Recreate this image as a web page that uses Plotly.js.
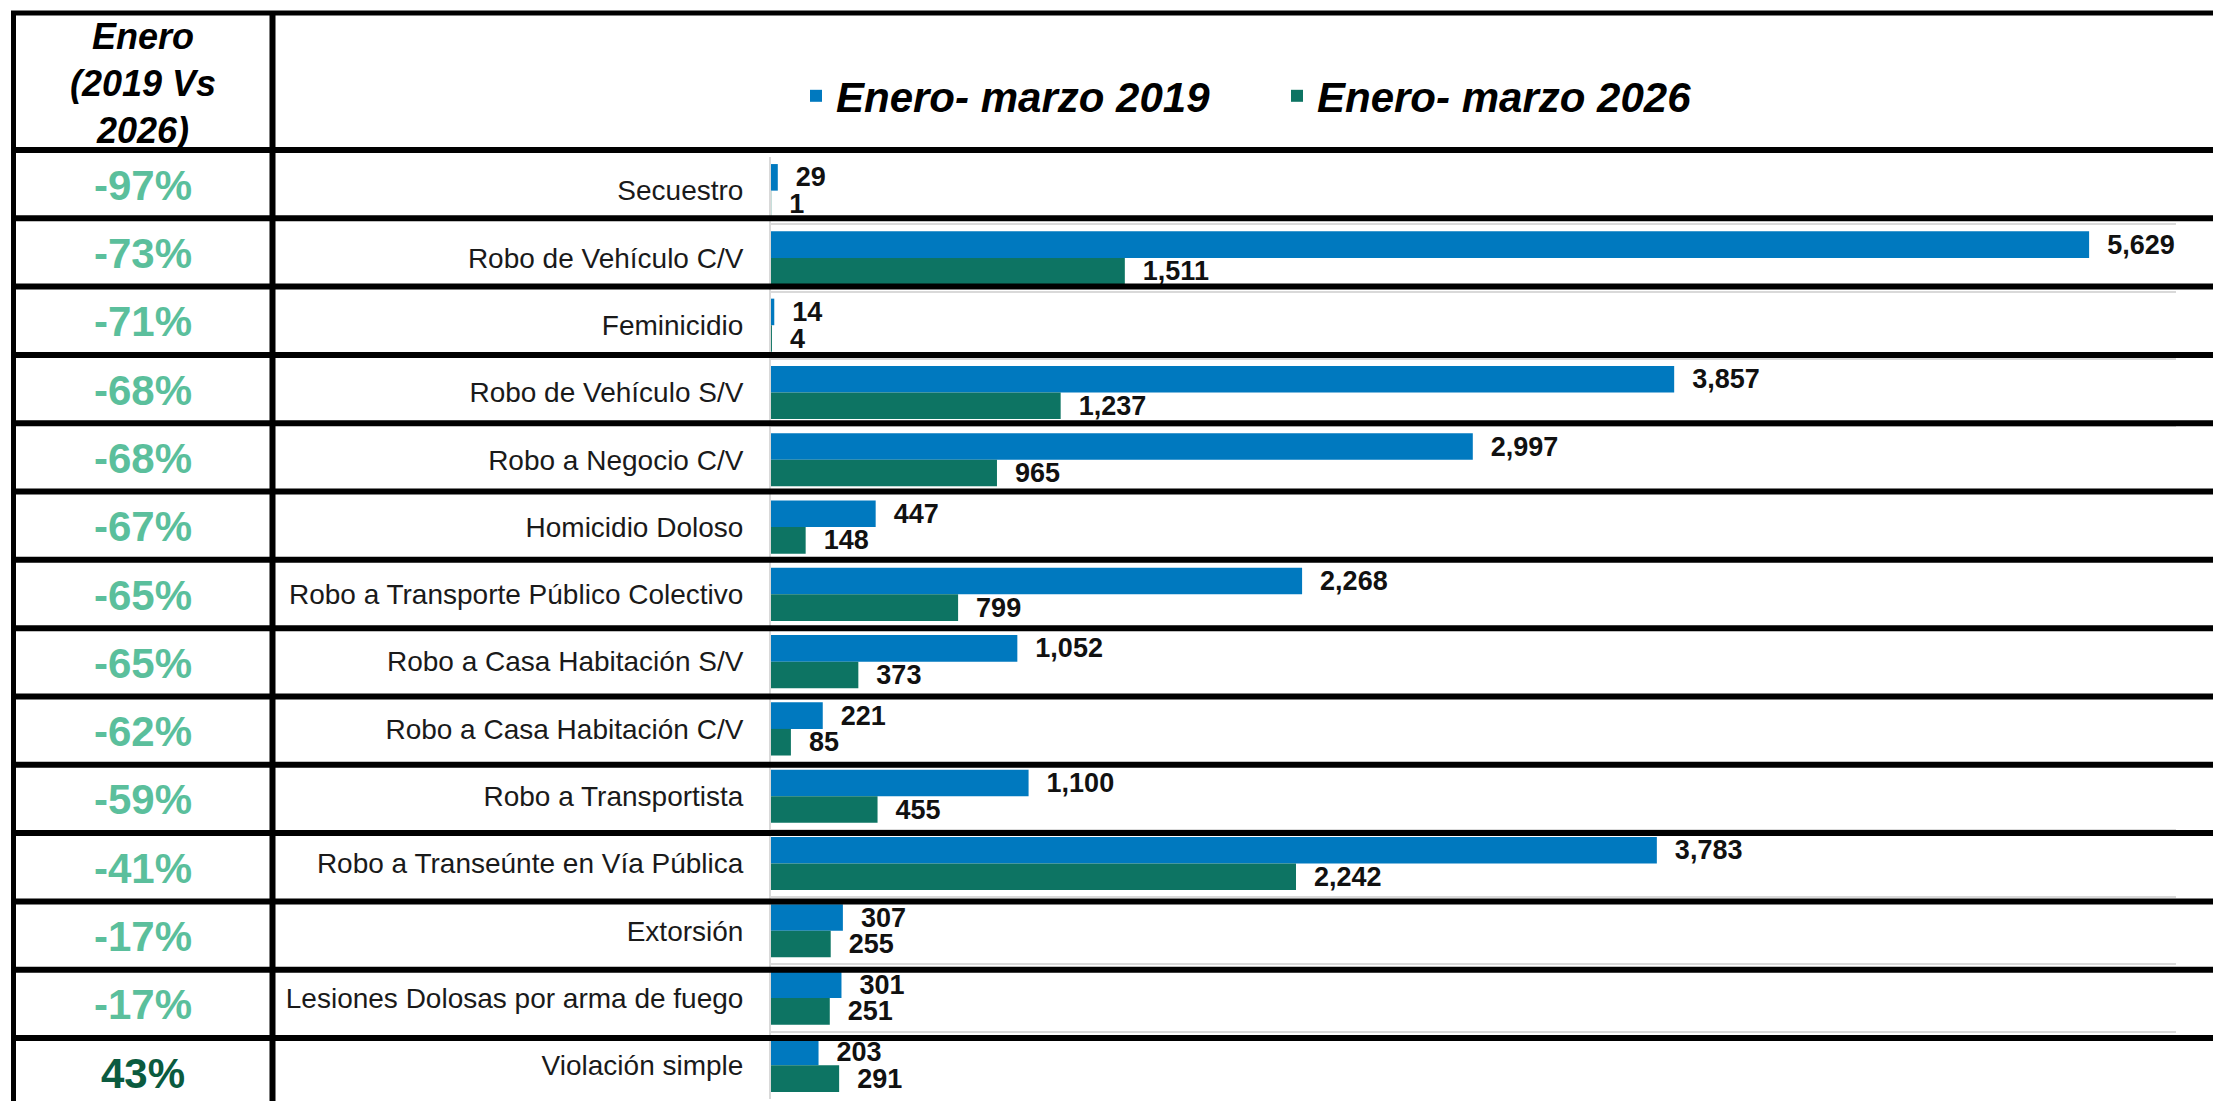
<!DOCTYPE html>
<html><head><meta charset="utf-8">
<script src="https://cdn.plot.ly/plotly-3.0.1.min.js"></script>
<style>html,body{margin:0;padding:0;background:#fff;overflow:hidden;} #chart{width:2213px;height:1101px;}</style>
</head><body><div id="chart"></div>
<script>
// ---- data ----
const categories = ["Secuestro","Robo de Vehículo C/V","Feminicidio","Robo de Vehículo S/V","Robo a Negocio C/V","Homicidio Doloso","Robo a Transporte Público Colectivo","Robo a Casa Habitación S/V","Robo a Casa Habitación C/V","Robo a Transportista","Robo a Transeúnte en Vía Pública","Extorsión","Lesiones Dolosas por arma de fuego","Violación simple"];
const values2019 = [29,5629,14,3857,2997,447,2268,1052,221,1100,3783,307,301,203];
const values2026 = [1,1511,4,1237,965,148,799,373,85,455,2242,255,251,291];
const pctChange = [-97,-73,-71,-68,-68,-67,-65,-65,-62,-59,-41,-17,-17,43];
const seriesNames = ["Enero- marzo 2019","Enero- marzo 2026"];
const headerText = "Enero<br>(2019 Vs<br>2026)";

// ---- layout constants ----
const W = 2213, H = 1101;
const M = {l: 771, r: 37, t: 157, b: 2};
const pw = W - M.l - M.r, ph = H - M.t - M.b;
const px2x = p => (p - M.l) / pw;
const py2y = p => (H - M.b - p) / ph;
const FONT = "Liberation Sans, Arial, Helvetica, sans-serif";
const tableLeft = 13.5, tableDivider = 272.5, tableTop = 13, headerBottom = 150, rowH = 68.31;
const leftCenter = (tableLeft + tableDivider) / 2;

const shapes = [];
const black = {color: '#000', width: 5};
shapes.push({type:'line', xref:'paper', yref:'paper', x0:px2x(11), x1:px2x(W), y0:py2y(tableTop), y1:py2y(tableTop), line:black});
shapes.push({type:'line', xref:'paper', yref:'paper', x0:px2x(tableLeft), x1:px2x(tableLeft), y0:py2y(11), y1:py2y(H), line:black});
shapes.push({type:'line', xref:'paper', yref:'paper', x0:px2x(tableDivider), x1:px2x(tableDivider), y0:py2y(11), y1:py2y(H), line:{color:'#000', width:6}});
for (let i = 0; i < categories.length; i++) {
  const yy = py2y(headerBottom + rowH * i);
  shapes.push({type:'line', xref:'paper', yref:'paper', x0:px2x(11), x1:px2x(W), y0:yy, y1:yy, line:{color:'#000', width:6}});
}

const annotations = [{
  xref:'paper', yref:'paper', x:px2x(leftCenter), y:py2y(83), xanchor:'center', yanchor:'middle',
  text: headerText, showarrow:false, align:'center',
  font:{family:FONT, size:36, weight:'bold', style:'italic', color:'#000'}
}];
pctChange.forEach((p, i) => {
  annotations.push({
    xref:'paper', yref:'paper', x:px2x(leftCenter), y:py2y(headerBottom + rowH * (i + 0.5) + 1),
    xanchor:'center', yanchor:'middle', showarrow:false,
    text: '<b>' + p + '%</b>',
    font:{family:FONT, size:42, weight:'bold', color: p < 0 ? '#5BBF9C' : '#0B5B3F'}
  });
});

const labelFont = {family:FONT, size:27, weight:'bold', color:'#111'};
const traces = [
  {type:'bar', orientation:'h', name:seriesNames[0], y:categories, x:values2019,
   marker:{color:'#0079BF'}, texttemplate:'\u00a0\u00a0%{x:,}', textposition:'outside',
   textfont:labelFont, constraintext:'none', cliponaxis:false},
  {type:'bar', orientation:'h', name:seriesNames[1], y:categories, x:values2026,
   marker:{color:'#0D7463'}, texttemplate:'\u00a0\u00a0%{x:,}', textposition:'outside',
   textfont:labelFont, constraintext:'none', cliponaxis:false}
];

const layout = {
  width: W, height: H, margin: M,
  paper_bgcolor:'#fff', plot_bgcolor:'#fff',
  barmode:'group', bargap:0.21, bargroupgap:0,
  showlegend:true,
  legend:{orientation:'h', x:px2x(796), xanchor:'left', y:py2y(96), yanchor:'middle',
          font:{family:FONT, size:42, weight:'bold', style:'italic', color:'#000'},
          entrywidth:436, entrywidthmode:'pixels', traceorder:'normal', bgcolor:'rgba(0,0,0,0)'},
  xaxis:{range:[0,6000], showticklabels:false, showgrid:false, zeroline:false, showline:false, fixedrange:true},
  yaxis:{type:'category', categoryorder:'array', categoryarray:categories, range:[categories.length-0.5,-0.5],
         tickson:'boundaries', ticks:'', showgrid:true, gridcolor:'#D9D9D9', gridwidth:2,
         showline:true, linecolor:'#D9D9D9', linewidth:2, ticklabelstandoff:20,
         tickfont:{family:FONT, size:28, color:'#1a1a1a'}, fixedrange:true},
  shapes: shapes, annotations: annotations
};
Plotly.newPlot('chart', traces, layout, {displayModeBar:false, staticPlot:true});
</script>
</body></html>
